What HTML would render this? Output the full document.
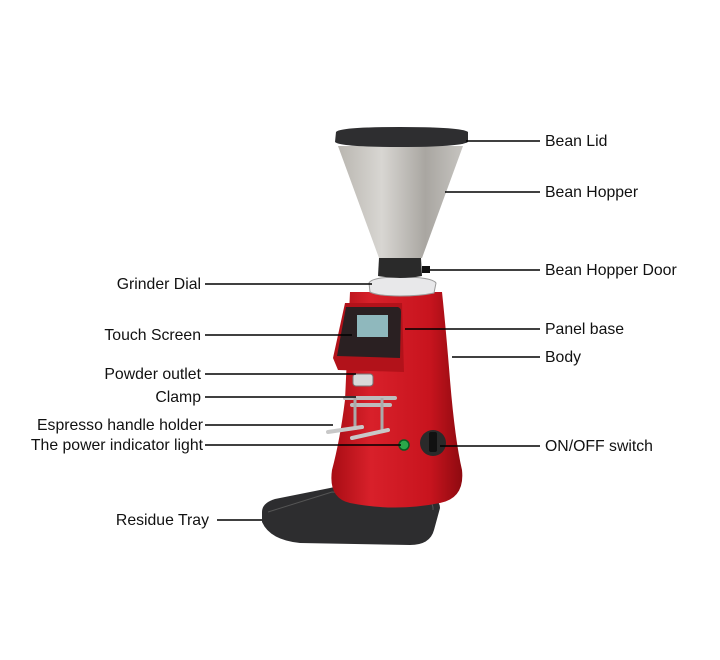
<!DOCTYPE html>
<html><head><style>
html,body{margin:0;padding:0;background:#fff;}
body{width:720px;height:660px;position:relative;overflow:hidden;font-family:"Liberation Sans",Arial,sans-serif;}
svg{position:absolute;left:0;top:0}
</style></head><body>
<svg width="720" height="660" viewBox="0 0 720 660">
<defs>
<linearGradient id="hop" x1="0" x2="1"><stop offset="0" stop-color="#b9b6b0"/><stop offset=".35" stop-color="#d8d6d2"/><stop offset=".7" stop-color="#a9a6a1"/><stop offset="1" stop-color="#c6c4c0"/></linearGradient>
<linearGradient id="red" x1="0" x2="1"><stop offset="0" stop-color="#a80d14"/><stop offset=".3" stop-color="#d8202a"/><stop offset=".75" stop-color="#c8141e"/><stop offset="1" stop-color="#8e0a10"/></linearGradient>
</defs>
<!-- tray -->
<path d="M262 512 Q262 503 275 499 L330 488 Q338 486 345 486 L420 494 Q440 497 440 508 L434 530 Q430 545 410 545 L300 543 Q270 540 262 522 Z" fill="#2d2d2f"/>
<path d="M268 512 L332 492 L420 498 Q434 500 433 510" fill="none" stroke="#555" stroke-width="1"/>
<!-- body -->
<path d="M350 292 L442 292 Q446 330 450 380 Q455 440 462 470 Q465 498 440 503 Q395 512 350 503 Q328 498 332 470 Q340 440 345 400 Z" fill="url(#red)"/>
<!-- panel -->
<path d="M345 303 L402 303 L404 372 L338 370 L333 358 Z" fill="#b2121a"/>
<path d="M346 307 L398 307 Q401 308 401 312 L400 358 L337 356 Z" fill="#2a2022"/>
<rect x="357" y="315" width="31" height="22" fill="#8fb8bd"/>
<!-- outlet -->
<rect x="353" y="374" width="20" height="12" rx="3" fill="#d9d9d9" stroke="#777"/>
<!-- clamp -->
<path d="M345 398 L395 398 M352 405 L390 405" stroke="#bdbdbd" stroke-width="4" stroke-linecap="round"/>
<path d="M355 398 L355 430 M382 398 L382 430" stroke="#aaa" stroke-width="3"/>
<path d="M328 432 L362 427 M352 438 L388 430" stroke="#c8c8c8" stroke-width="4" stroke-linecap="round"/>
<!-- light & switch -->
<circle cx="404" cy="445" r="5" fill="#2aa84a" stroke="#0a5a22" stroke-width="1.5"/>
<circle cx="433" cy="443" r="13" fill="#2a2a2a"/>
<rect x="429" y="432" width="8" height="20" rx="2" fill="#111"/>
<!-- dial ring -->
<path d="M369 283 Q372 277 400 277 Q432 277 436 283 L434 293 Q420 296 400 296 Q378 296 370 292 Z" fill="#e8e8ea" stroke="#9a9a9a"/>
<!-- collar -->
<path d="M379 258 L421 258 L422 276 Q400 280 378 276 Z" fill="#2a2a2a"/>
<rect x="422" y="266" width="8" height="7" fill="#111"/>
<!-- hopper -->
<path d="M338 146 L463 146 L422 258 L379 258 Z" fill="url(#hop)"/>
<!-- lid -->
<path d="M336 132 Q340 127 400 127 Q462 127 468 132 L468 142 Q460 147 400 147 Q340 147 335 142 Z" fill="#2e2e30"/>
<g stroke="#000" stroke-width="1.6">
<line x1="205" y1="284" x2="372" y2="284"/>
<line x1="205" y1="335" x2="352" y2="335"/>
<line x1="205" y1="374" x2="356" y2="374"/>
<line x1="205" y1="397" x2="356" y2="397"/>
<line x1="205" y1="425" x2="333" y2="425"/>
<line x1="205" y1="445" x2="401" y2="445"/>
<line x1="217" y1="520" x2="262" y2="520"/>
<line x1="466" y1="141" x2="540" y2="141"/>
<line x1="445" y1="192" x2="540" y2="192"/>
<line x1="430" y1="270" x2="540" y2="270"/>
<line x1="405" y1="329" x2="540" y2="329"/>
<line x1="452" y1="357" x2="540" y2="357"/>
<line x1="440" y1="446" x2="540" y2="446"/>
</g>
<g font-family="Liberation Sans,Arial,sans-serif" font-size="15.8" fill="#111">
<g text-anchor="end">
<text x="201" y="289">Grinder Dial</text>
<text x="201" y="340">Touch Screen</text>
<text x="201" y="379">Powder outlet</text>
<text x="201" y="402">Clamp</text>
<text x="203" y="430">Espresso handle holder</text>
<text x="203" y="450">The power indicator light</text>
<text x="209" y="525">Residue Tray</text>
</g>
<text x="545" y="146">Bean Lid</text>
<text x="545" y="197">Bean Hopper</text>
<text x="545" y="275">Bean Hopper Door</text>
<text x="545" y="334">Panel base</text>
<text x="545" y="362">Body</text>
<text x="545" y="451">ON/OFF switch</text>
</g>
</svg>
</body></html>
